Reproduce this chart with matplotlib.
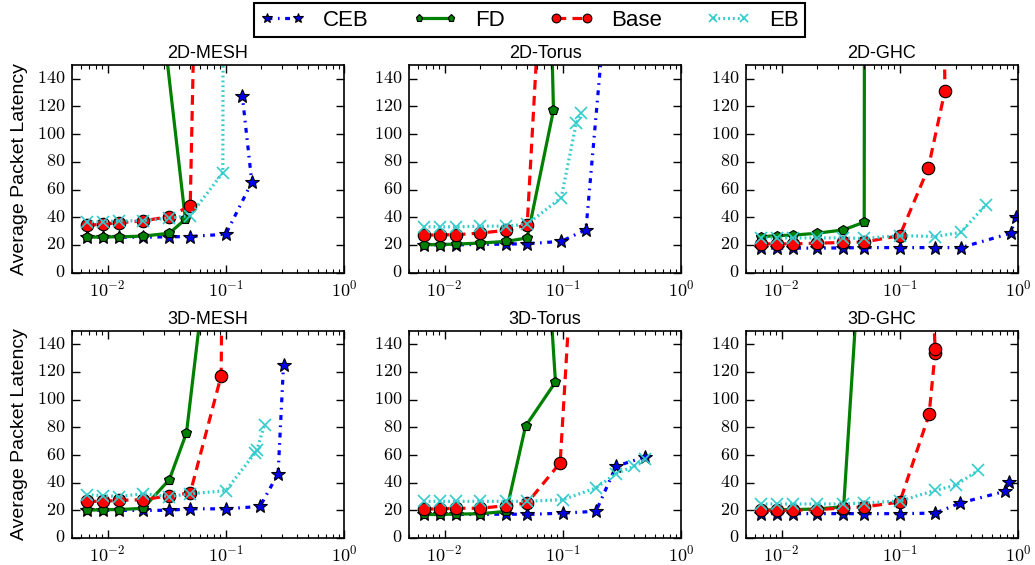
import math
import matplotlib
matplotlib.use("Agg")
import matplotlib.pyplot as plt
from matplotlib.ticker import FixedLocator, FuncFormatter, LogLocator, NullFormatter

plt.style.use("classic")
plt.rcParams.update({
    "figure.facecolor": "white",
    "savefig.facecolor": "white",
    "font.family": ["Liberation Sans", "DejaVu Sans"],
    "mathtext.fontset": "cm",
    "mathtext.default": "rm",
    "lines.scale_dashes": False,
    "axes.linewidth": 1.2,
})

# ---------------- data ----------------
titles = ["2D-MESH", "2D-Torus", "2D-GHC", "3D-MESH", "3D-Torus", "3D-GHC"]
series_names = ["CEB", "FD", "Base", "EB"]
y_ticks = [0, 20, 40, 60, 80, 100, 120, 140]
x_ticks = [0.01, 0.1, 1.0]

# 2D-MESH
mesh2d_ceb_x = [0.00667, 0.0091, 0.0125, 0.02, 0.0333, 0.05, 0.1, 0.166, 0.138]
mesh2d_ceb_y = [25.5, 25.5, 25.5, 25.5, 25.8, 26.0, 27.7, 65.3, 127.6]
mesh2d_fd_x = [0.00667, 0.0091, 0.0125, 0.02, 0.0333, 0.0455, 0.0276]
mesh2d_fd_y = [25.5, 25.7, 25.8, 26.3, 28.4, 38.5, 200]
mesh2d_base_x = [0.00667, 0.0091, 0.0125, 0.02, 0.0333, 0.05, 0.0545]
mesh2d_base_y = [34.0, 35.0, 36.0, 37.3, 40.4, 48.2, 200]
mesh2d_eb_x = [0.00667, 0.0091, 0.0125, 0.02, 0.0333, 0.05, 0.0944, 0.095]
mesh2d_eb_y = [36.5, 36.8, 37.2, 37.5, 39.3, 41.2, 72.2, 200]

# 2D-Torus
torus2d_ceb_x = [0.00667, 0.0091, 0.0125, 0.02, 0.0333, 0.05, 0.097, 0.157, 0.235]
torus2d_ceb_y = [20.0, 20.0, 20.0, 20.3, 20.5, 20.8, 22.5, 31.0, 200]
torus2d_fd_x = [0.00667, 0.0091, 0.0125, 0.02, 0.0333, 0.05, 0.0834, 0.079]
torus2d_fd_y = [20.0, 20.2, 20.5, 21.3, 22.5, 25.0, 117.3, 200]
torus2d_base_x = [0.00667, 0.0091, 0.0125, 0.02, 0.0333, 0.05, 0.064]
torus2d_base_y = [26.9, 27.3, 27.3, 28.5, 30.5, 34.6, 200]
torus2d_eb_x = [0.00667, 0.0091, 0.0125, 0.02, 0.0333, 0.05, 0.097, 0.130, 0.143]
torus2d_eb_y = [33.0, 33.0, 33.0, 33.5, 33.5, 35.0, 54.0, 108.0, 115.0]

# 2D-GHC
ghc2d_ceb_x = [0.00667, 0.0091, 0.0125, 0.02, 0.0333, 0.05, 0.1, 0.2, 0.328, 0.87, 0.96]
ghc2d_ceb_y = [17.6, 17.6, 17.6, 17.6, 17.8, 18.0, 18.0, 18.0, 18.0, 28.4, 40.4]
ghc2d_fd_x = [0.00667, 0.0091, 0.0125, 0.02, 0.0333, 0.05, 0.0505]
ghc2d_fd_y = [25.8, 26.7, 27.0, 28.4, 30.8, 36.4, 400]
ghc2d_base_x = [0.00667, 0.0091, 0.0125, 0.02, 0.0333, 0.05, 0.1, 0.174, 0.241, 0.235]
ghc2d_base_y = [20.7, 20.7, 20.7, 21.2, 21.7, 22.0, 26.7, 75.4, 131.4, 200]
ghc2d_eb_x = [0.00667, 0.0091, 0.0125, 0.02, 0.0333, 0.05, 0.1, 0.2, 0.328, 0.535]
ghc2d_eb_y = [25.0, 25.0, 25.0, 25.0, 25.0, 24.6, 26.7, 26.0, 29.0, 48.9]

# 3D-MESH
mesh3d_ceb_x = [0.00667, 0.0091, 0.0125, 0.02, 0.0333, 0.05, 0.1, 0.195, 0.277, 0.308]
mesh3d_ceb_y = [20.0, 20.0, 20.0, 20.0, 20.0, 21.2, 21.0, 22.9, 46.5, 125.4]
mesh3d_fd_x = [0.00667, 0.0091, 0.0125, 0.02, 0.0333, 0.0465, 0.069]
mesh3d_fd_y = [20.0, 20.5, 20.5, 21.5, 42.2, 76.0, 200]
mesh3d_base_x = [0.00667, 0.0091, 0.0125, 0.02, 0.0333, 0.05, 0.0914, 0.093]
mesh3d_base_y = [26.5, 26.5, 27.2, 27.7, 30.6, 32.5, 117.4, 200]
mesh3d_eb_x = [0.00667, 0.0091, 0.0125, 0.02, 0.0333, 0.05, 0.1, 0.177, 0.183, 0.213]
mesh3d_eb_y = [31.3, 30.6, 30.0, 32.0, 30.0, 32.0, 34.2, 61.5, 63.5, 82.0]

# 3D-Torus
torus3d_ceb_x = [0.00667, 0.0091, 0.0125, 0.02, 0.0333, 0.05, 0.1, 0.191, 0.282, 0.498]
torus3d_ceb_y = [17.0, 17.0, 17.0, 17.0, 17.3, 17.0, 18.0, 19.3, 51.9, 58.6]
torus3d_fd_x = [0.00667, 0.0091, 0.0125, 0.02, 0.0333, 0.0484, 0.0867, 0.0745]
torus3d_fd_y = [17.0, 17.0, 17.3, 17.5, 19.3, 80.8, 112.7, 200]
torus3d_base_x = [0.00667, 0.0091, 0.0125, 0.02, 0.0333, 0.05, 0.095, 0.12]
torus3d_base_y = [21.0, 21.0, 21.5, 21.5, 23.4, 25.3, 54.3, 200]
torus3d_eb_x = [0.00667, 0.0091, 0.0125, 0.02, 0.0333, 0.05, 0.1, 0.191, 0.282, 0.402, 0.5]
torus3d_eb_y = [26.5, 26.5, 26.5, 26.5, 26.5, 26.5, 27.7, 36.2, 46.6, 51.9, 57.0]

# 3D-GHC
ghc3d_ceb_x = [0.00667, 0.0091, 0.0125, 0.02, 0.0333, 0.05, 0.1, 0.2, 0.324, 0.78, 0.84]
ghc3d_ceb_y = [17.6, 17.6, 17.6, 17.6, 17.6, 17.6, 17.6, 18.0, 25.3, 33.8, 40.3]
ghc3d_fd_x = [0.00667, 0.0091, 0.0125, 0.02, 0.0335, 0.0455]
ghc3d_fd_y = [20.0, 20.5, 20.5, 21.0, 22.6, 200]
ghc3d_base_x = [0.00667, 0.0091, 0.0125, 0.02, 0.0333, 0.05, 0.1, 0.177, 0.199, 0.199, 0.185]
ghc3d_base_y = [20.0, 20.0, 20.0, 20.5, 21.7, 22.5, 26.0, 89.3, 134.0, 136.5, 200]
ghc3d_eb_x = [0.00667, 0.0091, 0.0125, 0.02, 0.0333, 0.05, 0.1, 0.2, 0.297, 0.463]
ghc3d_eb_y = [24.6, 24.6, 24.6, 24.6, 24.6, 25.3, 26.7, 34.5, 38.1, 49.0]

panels = [
    [(mesh2d_ceb_x, mesh2d_ceb_y), (mesh2d_fd_x, mesh2d_fd_y), (mesh2d_base_x, mesh2d_base_y), (mesh2d_eb_x, mesh2d_eb_y)],
    [(torus2d_ceb_x, torus2d_ceb_y), (torus2d_fd_x, torus2d_fd_y), (torus2d_base_x, torus2d_base_y), (torus2d_eb_x, torus2d_eb_y)],
    [(ghc2d_ceb_x, ghc2d_ceb_y), (ghc2d_fd_x, ghc2d_fd_y), (ghc2d_base_x, ghc2d_base_y), (ghc2d_eb_x, ghc2d_eb_y)],
    [(mesh3d_ceb_x, mesh3d_ceb_y), (mesh3d_fd_x, mesh3d_fd_y), (mesh3d_base_x, mesh3d_base_y), (mesh3d_eb_x, mesh3d_eb_y)],
    [(torus3d_ceb_x, torus3d_ceb_y), (torus3d_fd_x, torus3d_fd_y), (torus3d_base_x, torus3d_base_y), (torus3d_eb_x, torus3d_eb_y)],
    [(ghc3d_ceb_x, ghc3d_ceb_y), (ghc3d_fd_x, ghc3d_fd_y), (ghc3d_base_x, ghc3d_base_y), (ghc3d_eb_x, ghc3d_eb_y)],
]

# ---------------- styles ----------------
LW = 2.3
styles = [
    dict(color=(0, 0, 1), marker="*", ms=10, mfc=(0, 0, 0.9), mec="k", mew=0.8,
         dashes=(3.5, 4, 1.2, 4)),
    dict(color=(0, 0.5, 0), marker="p", ms=7.5, mfc=(0, 0.5, 0), mec="k", mew=0.8,
         linestyle="-"),
    dict(color=(1, 0, 0), marker="o", ms=9, mfc=(1, 0, 0), mec="k", mew=0.8,
         dashes=(7, 4.5)),
    dict(color=(0.2, 0.8, 0.8), marker="x", ms=9, mec=(0.2, 0.8, 0.8), mew=1.2,
         dashes=(1.3, 2.2)),
]

fig = plt.figure(figsize=(10.35, 5.65), dpi=100)
W, H = 1035.0, 565.0
ax_w, ax_h = 272.0, 207.5
lefts = [72.0, 409.0, 746.0]
tops = [65.0, 330.5]

axes = []
for i, title in enumerate(titles):
    r, c = divmod(i, 3)
    ax = fig.add_axes([lefts[c] / W, 1 - (tops[r] + ax_h) / H, ax_w / W, ax_h / H])
    axes.append(ax)
    for (xs, ys), name, st in zip(panels[i], series_names, styles):
        ax.plot(xs, ys, lw=LW, label=name, **st)
    ax.set_xscale("log")
    ax.set_xlim(0.005, 1.0)
    ax.set_ylim(0, 150)
    ax.yaxis.set_major_locator(FixedLocator(y_ticks))
    ax.yaxis.set_major_formatter(FuncFormatter(lambda v, p: r"$%d$" % v))
    ax.xaxis.set_major_locator(FixedLocator(x_ticks))
    ax.xaxis.set_major_formatter(FuncFormatter(lambda v, p: r"$10^{%d}$" % round(math.log10(v))))
    ax.xaxis.set_minor_locator(LogLocator(base=10, subs=range(2, 10)))
    ax.xaxis.set_minor_formatter(NullFormatter())
    ax.tick_params(which="major", direction="in", length=5.5, width=1.0,
                   top=True, right=True, labelsize=13, pad=5)
    ax.tick_params(which="minor", direction="in", length=3, width=0.8,
                   top=True, right=True)
    ax.set_title(title, fontsize=13, pad=5)
    if c == 0:
        ax.set_ylabel("Average Packet Latency", fontsize=14)
        ax.yaxis.set_label_coords(-0.16, 0.5)

handles, labels = axes[0].get_legend_handles_labels()
leg = fig.legend(handles, labels, loc="upper center", ncol=4,
                 bbox_to_anchor=(529.5 / W, 1 - 3 / H), fontsize=16,
                 numpoints=2, frameon=True, fancybox=False, markerscale=0.7,
                 borderpad=0.3, borderaxespad=0.0, columnspacing=2.0,
                 handlelength=2.0, handletextpad=0.8)
leg.get_frame().set_linewidth(1.5)
leg.get_frame().set_edgecolor("black")

fig.savefig("out.png", dpi=100)
